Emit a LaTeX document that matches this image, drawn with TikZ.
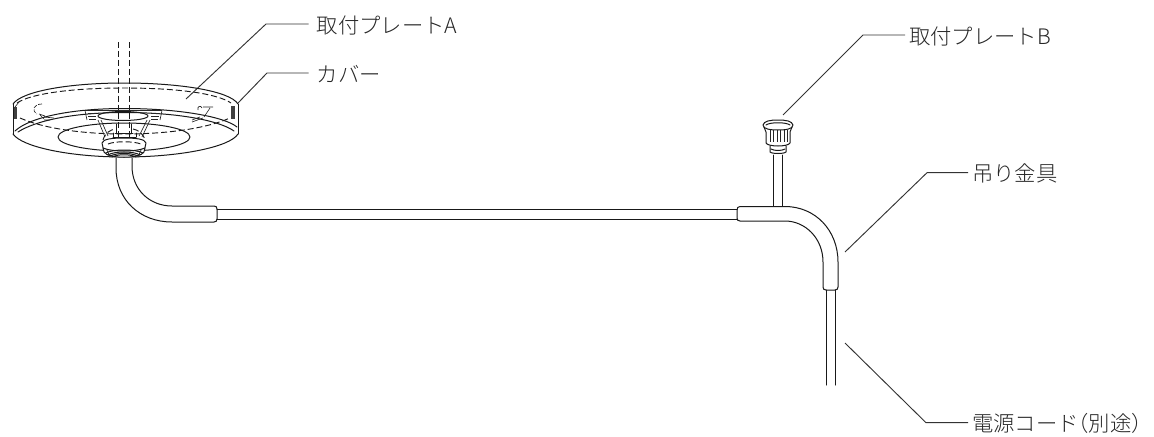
\documentclass[tikz,border=0pt]{standalone}
\usepackage{fontspec}
\newfontfamily\cjk{Noto Sans CJK JP Light}
\tikzset{
 lbl/.style={font=\cjk\fontsize{16}{16}\selectfont,anchor=base west,inner sep=0pt,text=black!85},
 lead/.style={line width=0.7pt,black!80},
 ln/.style={line width=0.75pt,black!90,line cap=round,line join=round},
 thin line/.style={line width=0.5pt,black!85},
 hid/.style={line width=0.7pt,black!90,dash pattern=on 4.5pt off 2.2pt},
}
\begin{document}
\begin{tikzpicture}[x=0.75pt,y=-0.75pt]
\useasboundingbox (0,0) rectangle (1154,436);
% labels
\node[lbl] (la) at (316.5,33) {取付プレートA};
\node[lbl] (lc) at (316.5,82) {カバー};
\node[lbl] (lb) at (909,44) {取付プレートB};
\node[lbl] (lh) at (972,181) {吊り金具};
\node[lbl] (ld) at (972,431) {電源コード\kern-8.5pt （別途）};
\coordinate (ea) at (186,99); \coordinate (ka) at (266,24);
\coordinate (ec) at (238,103); \coordinate (kc) at (267,73);
\coordinate (eb) at (783,115); \coordinate (kb) at (863,35);
\coordinate (eh) at (845,252); \coordinate (kh) at (927,172.7);
\coordinate (ed) at (845,343); \coordinate (kd) at (926,422.7);
\draw[lead] (ea)--(ka)--([xshift=-6pt]ka -| la.west);
\draw[lead] (ec)--(kc)--([xshift=-6pt]kc -| lc.west);
\draw[lead] (eb)--(kb)--([xshift=-3pt]kb -| lb.west);
\draw[lead] (eh)--(kh)--([xshift=-3pt]kh -| lh.west);
\draw[lead] (ed)--(kd)--([xshift=-3pt]kd -| ld.west);
% plate A & cover
\draw[ln] (13,104) .. controls (22,91) and (70,83) .. (124,83) .. controls (180,83) and (230,91) .. (238,104);
\draw[ln] (13,104)--(13,134) (238,104)--(238,134);
\draw[hid] (17,103) .. controls (30,94) and (70,88) .. (124,88) .. controls (180,88) and (218,94) .. (231,103);
\draw[ln] (15,131) .. controls (30,117) and (72,108.5) .. (124,108.5) .. controls (180,108.5) and (225,117) .. (237,127);
\draw[ln] (18,132) .. controls (35,121) and (72,112.5) .. (124,112.5) .. controls (180,112.5) and (220,121) .. (234,131);
\draw[ln] (13,134) .. controls (22,147) and (70,157) .. (124,157) .. controls (180,157) and (230,147) .. (238,134);
\draw[ln] (124,137) ellipse [x radius=66,y radius=14];
\draw[hid] (20,118) .. controls (45,129) and (85,134) .. (124,134) .. controls (165,134) and (205,129) .. (230,118);
\draw[hid] (118,42)--(118,150) (129,42)--(129,150);
% dark clips
\fill[black!75] (13.5,107) rectangle (16.5,119);
\draw[thin line] (15,107)--(19,102);
\fill[black!75] (231,106) rectangle (235,119);
\draw[thin line,dash pattern=on 3pt off 1pt] (42,104) .. controls (34,104) and (31,110) .. (37,114);
\draw[thin line] (40,115)--(44,119) (44,117)--(54,118) (44,120)--(50,120) (39,114)--(45,116);
\draw[thin line] (198,110) .. controls (197,106) and (201,105) .. (202,108) (203,107)--(213,107) (210,108)--(204,117) (192,122)--(203,118) (192,120)--(200,117);
% centre hub
\draw[ln] (123,116) ellipse [x radius=25,y radius=4.5];
\draw[thin line] (85,110.5)--(162,110.5) (85,110.5)--(87,120) (162,110.5)--(160,120);
\draw[thin line] (88,113)--(96,113) (88,116)--(96,116) (89,119)--(96,119) (151,113)--(159,113) (151,116)--(159,116) (151,119)--(158,119);
\draw[thin line] (98,120)--(105,137) (150,120)--(142,137);
\draw[thin line] (101,120)--(108,136) (147,120)--(139,136);
\draw[hid] (103,140) .. controls (105,133) and (110,130) .. (115,129) (133,129) .. controls (138,130) and (143,133) .. (145,140);
\draw[ln] (115,133)--(133,133) (113,137)--(136,137) (113,133)--(113,137) (136,133)--(136,137) (116,124)--(116,133) (131,124)--(131,133);
% bell
\draw[ln,fill=white] (102,143) .. controls (103,139) and (112,138) .. (124,138) .. controls (136,138) and (145,139) .. (146,143) -- (144,152) .. controls (140,159) and (108,159) .. (104,152) -- cycle;
\draw[hid] (108,144) .. controls (115,141) and (133,141) .. (141,144);
\draw[ln] (103,148) .. controls (112,152) and (136,152) .. (145,148);
\draw[ln] (106,153) .. controls (112,149) and (136,149) .. (143,153);
\draw[ln] (108,155) .. controls (114,151) and (134,151) .. (140,155);
\draw[ln] (110,156) .. controls (118,152.5) and (130,152.5) .. (138,156);
\draw[ln] (112,157) .. controls (118,154) and (130,154) .. (136,157);
\draw[thin line] (107,150)--(110,157) (141,150)--(138,157);
% tube A
\draw[ln] (116,158)--(116,168) .. controls (116,200) and (140,222) .. (172,222) -- (214,222) .. controls (216,222) and (217,221) .. (217,219) -- (217,209) .. controls (217,207) and (216,206) .. (214,206) -- (172,206) .. controls (150,206) and (132,190) .. (132,166) -- (132,158);
% long tube
\draw[ln] (217,209)--(737,209) (217,219)--(737,219);
% post
\draw[ln] (773,155)--(773,206) (782,155)--(782,206);
% sleeve
\draw[ln] (740,206.5) -- (785,206.5) .. controls (815,206.5) and (838,230) .. (838,262) -- (838,287) .. controls (838,289) and (837,290) .. (835,290) -- (826,290) .. controls (824,290) and (823,289) .. (823,287) -- (823,262) .. controls (823,238) and (805,221) .. (785,221) -- (740,221) .. controls (738,221) and (737,220) .. (737,218) -- (737,210) .. controls (737,208) and (738,206.5) .. (740,206.5) -- cycle;
% cord
\draw[ln] (826,290)--(826,385) (835.5,290)--(835.5,385);
% plate B
\draw[ln] (763,125) .. controls (764,121) and (770,120) .. (778,120) .. controls (786,120) and (792,121) .. (793,125) .. controls (793,129) and (786,130) .. (778,130) .. controls (770,130) and (763,129) .. (763,125) -- cycle;
\draw[ln] (766,125) .. controls (770,122) and (786,122) .. (790,125);
\draw[ln] (764,127) -- (766,132) -- (766,143) .. controls (768,147) and (788,147) .. (790,143) -- (790,132) -- (792,127);
\foreach \x in {770,773.5,777,780.5,784,787} \draw[thin line] (\x,130)--(\x,142);
\draw[ln] (770,146)--(770,152) .. controls (772,154) and (784,154) .. (786,152) -- (786,146);
\draw[ln] (771,149) .. controls (774,151) and (782,151) .. (785,149);
\end{tikzpicture}
\end{document}
